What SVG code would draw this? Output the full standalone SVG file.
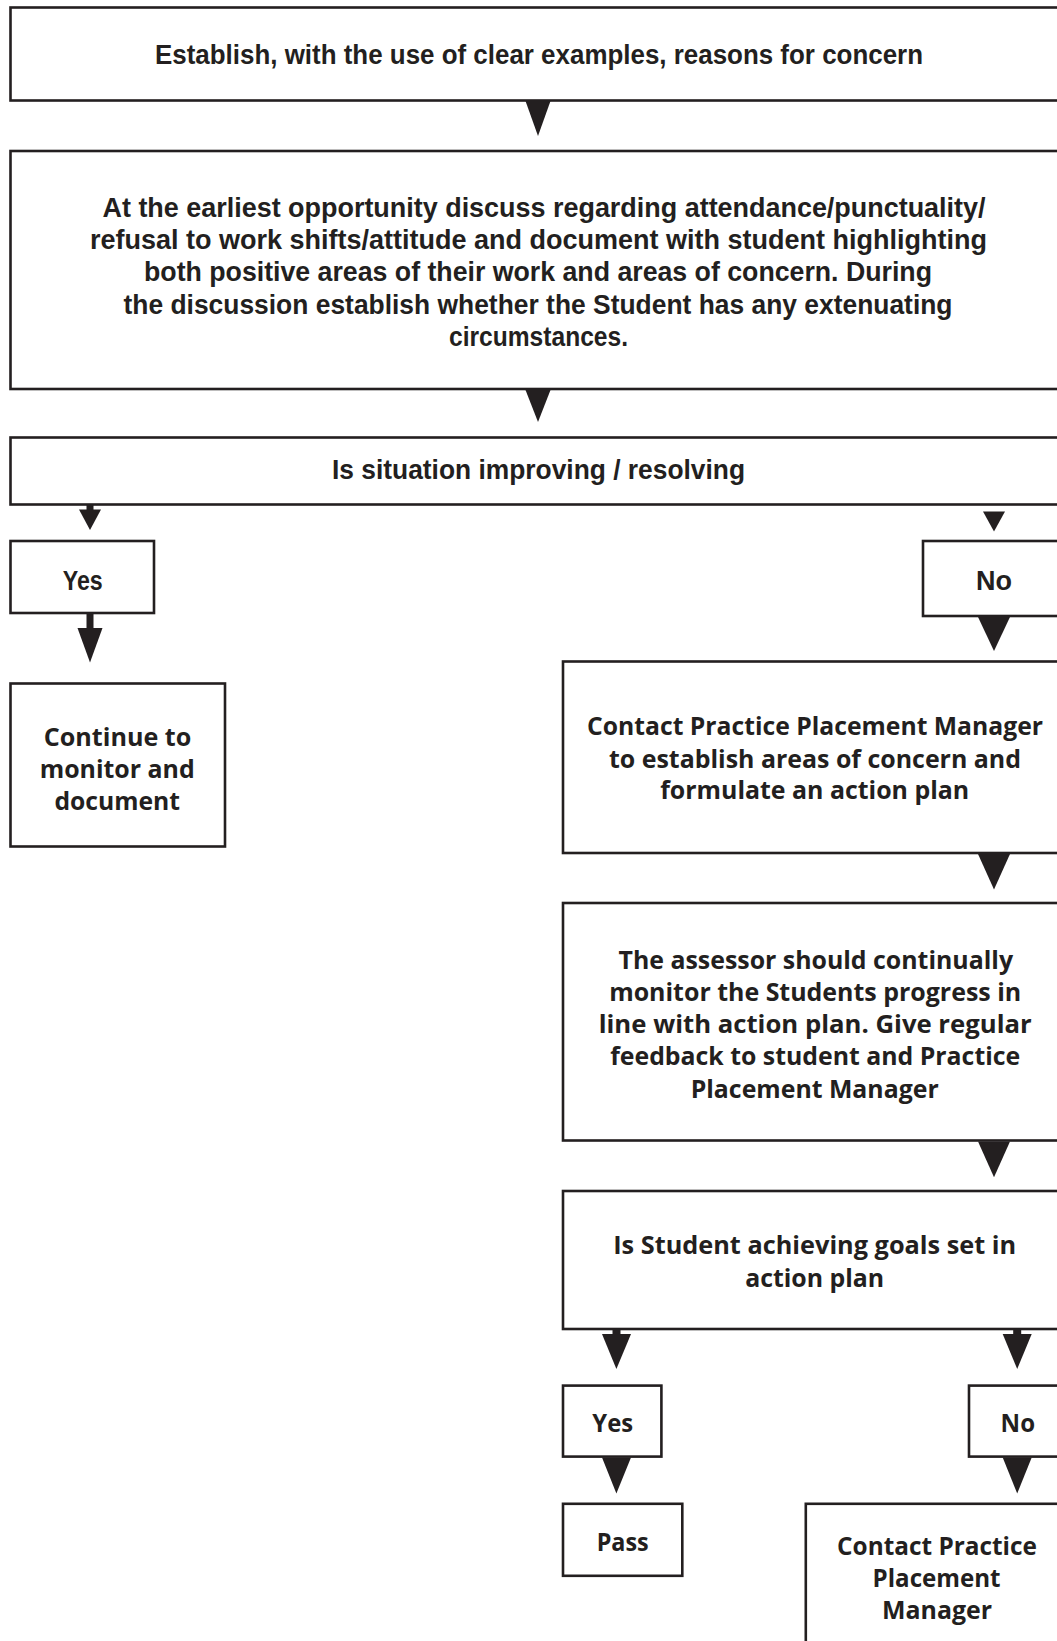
<svg xmlns="http://www.w3.org/2000/svg" width="1057" height="1641" viewBox="0 0 1057 1641">
<style>
.box{fill:#fff;stroke:#231f20;stroke-width:2.6}
.t{font-weight:bold;fill:#231f20;text-anchor:middle}
.c{font-family:"Liberation Sans","Open Sans",sans-serif;font-size:27px}
.n{font-family:"Open Sans","Liberation Sans",sans-serif;font-size:25px}
.arr{fill:#231f20}
</style>
<rect width="1057" height="1641" fill="#fff"/>
<g id="n1"><rect class="box" x="10.5" y="7.5" width="1060" height="93"/>
<text class="t c" x="539" y="64" textLength="768" lengthAdjust="spacingAndGlyphs">Establish, with the use of clear examples, reasons for concern</text></g>
<g id="n2"><rect class="box" x="10.5" y="151" width="1060" height="238"/>
<text class="t c" x="544" y="217" textLength="883" lengthAdjust="spacingAndGlyphs">At the earliest opportunity discuss regarding attendance/punctuality/</text>
<text class="t c" x="538.5" y="249" textLength="897" lengthAdjust="spacingAndGlyphs">refusal to work shifts/attitude and document with student highlighting</text>
<text class="t c" x="538" y="281" textLength="788" lengthAdjust="spacingAndGlyphs">both positive areas of their work and areas of concern.  During</text>
<text class="t c" x="538" y="313.5" textLength="829" lengthAdjust="spacingAndGlyphs">the discussion establish whether the Student has any extenuating</text>
<text class="t c" x="538.5" y="346" textLength="179" lengthAdjust="spacingAndGlyphs">circumstances.</text></g>
<g id="n3"><rect class="box" x="10.5" y="437.5" width="1060" height="67"/>
<text class="t c" x="538.5" y="479" textLength="413" lengthAdjust="spacingAndGlyphs">Is situation improving / resolving</text></g>
<g id="n4"><rect class="box" x="10.5" y="541" width="143.5" height="72"/>
<text class="t c" x="82.7" y="590" textLength="40" lengthAdjust="spacingAndGlyphs">Yes</text></g>
<g id="n5"><rect class="box" x="923" y="541" width="150" height="75"/>
<text class="t c" x="994" y="590" textLength="36" lengthAdjust="spacingAndGlyphs">No</text></g>
<g id="n6"><rect class="box" x="10.5" y="683.5" width="214.5" height="163"/>
<text class="t n" x="117.5" y="745.5" textLength="147.5" lengthAdjust="spacingAndGlyphs">Continue to</text>
<text class="t n" x="117.2" y="778" textLength="155" lengthAdjust="spacingAndGlyphs">monitor and</text>
<text class="t n" x="117.2" y="809.5" textLength="125.6" lengthAdjust="spacingAndGlyphs">document</text></g>
<g id="n7"><rect class="box" x="563" y="661.5" width="510" height="191.5"/>
<text class="t n" x="815" y="735" textLength="456" lengthAdjust="spacingAndGlyphs">Contact Practice Placement Manager</text>
<text class="t n" x="815" y="767.5" textLength="412" lengthAdjust="spacingAndGlyphs">to establish areas of concern and</text>
<text class="t n" x="814.7" y="799" textLength="309" lengthAdjust="spacingAndGlyphs">formulate an action plan</text></g>
<g id="n8"><rect class="box" x="563" y="903" width="510" height="237.5"/>
<text class="t n" x="815.8" y="968.5" textLength="394.5" lengthAdjust="spacingAndGlyphs">The assessor should continually</text>
<text class="t n" x="815.2" y="1001" textLength="412" lengthAdjust="spacingAndGlyphs">monitor the Students progress in</text>
<text class="t n" x="815.2" y="1032.5" textLength="433" lengthAdjust="spacingAndGlyphs">line with action plan.  Give regular</text>
<text class="t n" x="815.2" y="1065" textLength="410" lengthAdjust="spacingAndGlyphs">feedback to student and Practice</text>
<text class="t n" x="814.7" y="1097.5" textLength="248" lengthAdjust="spacingAndGlyphs">Placement Manager</text></g>
<g id="n9"><rect class="box" x="563" y="1191" width="510" height="138"/>
<text class="t n" x="814.7" y="1254.3" textLength="403" lengthAdjust="spacingAndGlyphs">Is Student achieving goals set in</text>
<text class="t n" x="814.7" y="1286.8" textLength="139" lengthAdjust="spacingAndGlyphs">action plan</text></g>
<g id="n10"><rect class="box" x="563" y="1385.6" width="98.4" height="71"/>
<text class="t n" x="612.7" y="1432" textLength="40.8" lengthAdjust="spacingAndGlyphs">Yes</text></g>
<g id="n11"><rect class="box" x="969" y="1385.6" width="104" height="71"/>
<text class="t n" x="1017.8" y="1432" textLength="34.5" lengthAdjust="spacingAndGlyphs">No</text></g>
<g id="n12"><rect class="box" x="563" y="1503.8" width="119.3" height="72"/>
<text class="t n" x="622.7" y="1550.5" textLength="52" lengthAdjust="spacingAndGlyphs">Pass</text></g>
<g id="n13"><rect class="box" x="805.8" y="1503.8" width="267" height="150"/>
<text class="t n" x="937" y="1554.7" textLength="200" lengthAdjust="spacingAndGlyphs">Contact Practice</text>
<text class="t n" x="936.6" y="1587" textLength="128" lengthAdjust="spacingAndGlyphs">Placement</text>
<text class="t n" x="937" y="1618.5" textLength="110" lengthAdjust="spacingAndGlyphs">Manager</text></g>
<g id="connectors" class="arr">
<polygon points="525.5,101 550.5,101 538,136"/>
<polygon points="525.5,390 550.5,390 538,422"/>
<rect x="86.5" y="505" width="7" height="5"/>
<polygon points="79,509.5 101,509.5 90,530"/>
<polygon points="983,511.5 1005,511.5 994,531.5"/>
<rect x="86.5" y="614" width="7" height="14"/>
<polygon points="77.5,628 102.5,628 90,662.5"/>
<polygon points="978,617 1010,617 994,651"/>
<polygon points="978,854 1010,854 994,889.5"/>
<polygon points="978,1141.5 1010,1141.5 994,1177.3"/>
<rect x="612.5" y="1330" width="8" height="5"/>
<polygon points="602,1334 631,1334 616.4,1369"/>
<rect x="1013.2" y="1330" width="8" height="5"/>
<polygon points="1002.7,1334 1031.7,1334 1017.2,1369"/>
<polygon points="602,1457.5 631,1457.5 616.4,1493.4"/>
<polygon points="1002.7,1457.5 1031.7,1457.5 1017.2,1493.4"/>
</g>
</svg>
